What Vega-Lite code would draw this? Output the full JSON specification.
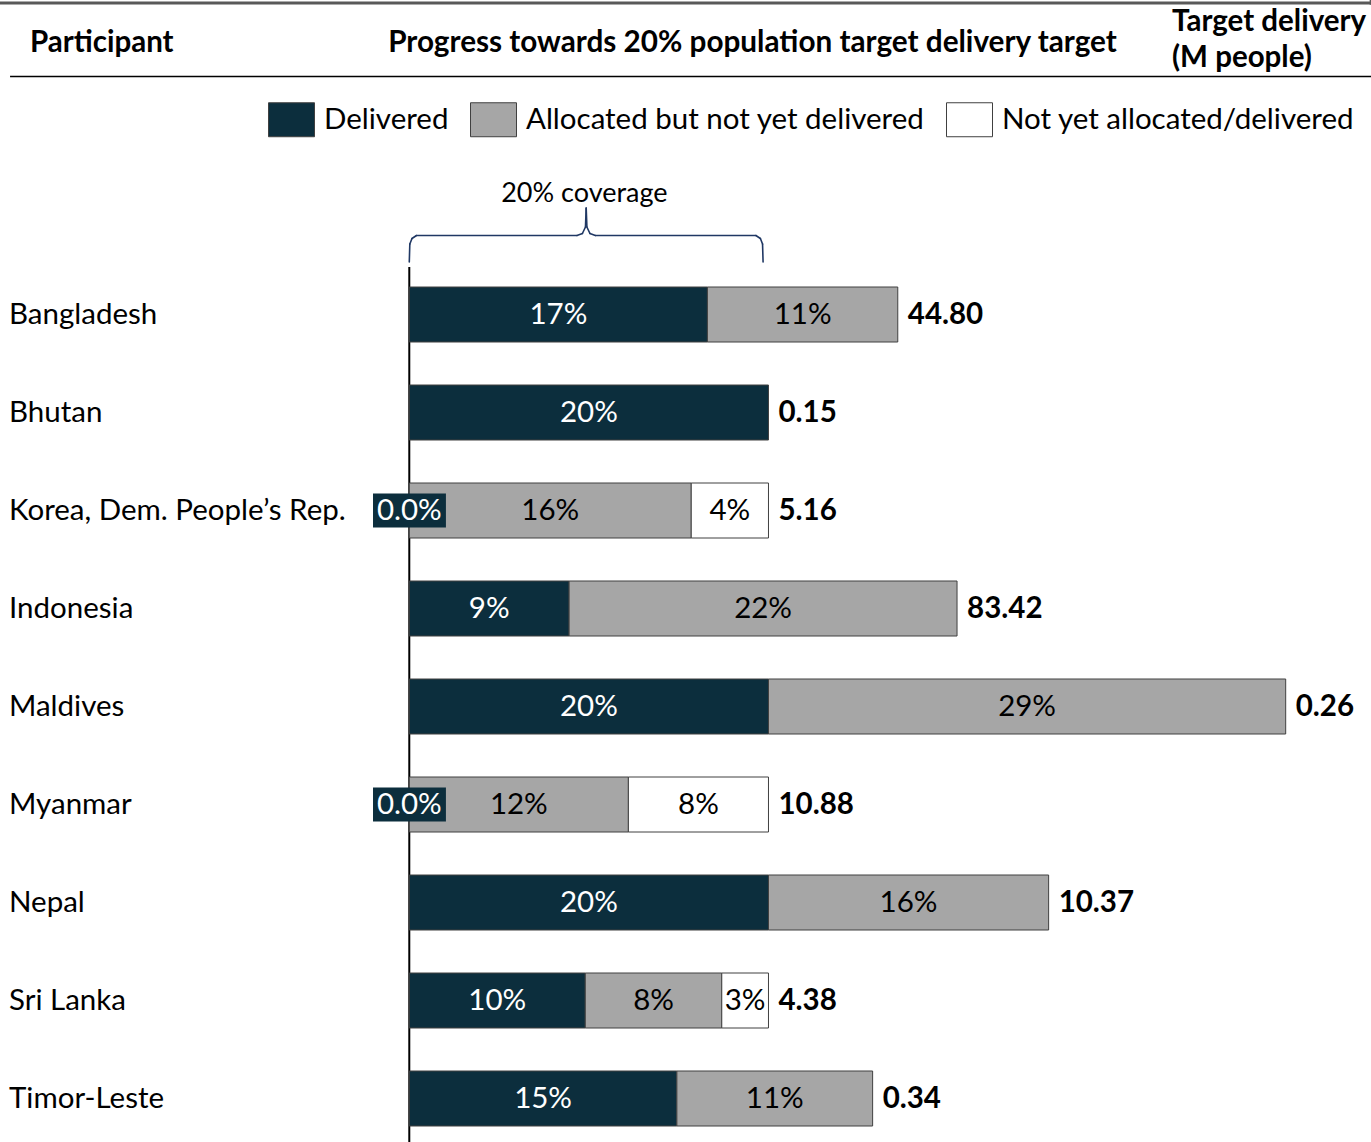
{
  "$schema": "https://vega.github.io/schema/vega-lite/v6.json",
  "width": 1371,
  "height": 877,
  "autosize": {"type": "none"},
  "padding": {"top": 265, "left": 0, "right": 0, "bottom": 0},
  "background": "white",
  "config": {
    "view": {"stroke": null},
    "font": "Lato",
    "axisY": {"domain": false, "ticks": false, "tickSize": 0, "grid": false, "labelAlign": "left", "labelPadding": -8.5, "labelFont": "Lato", "labelFontSize": 29.5, "labelColor": "black", "labelLimit": 600}
  },
  "datasets": {
    "shares": [
      {"Participant": "Bangladesh", "Status": "Delivered", "Rank": 1, "Share": 0.166},
      {"Participant": "Bangladesh", "Status": "Allocated but not yet delivered", "Rank": 2, "Share": 0.106},
      {"Participant": "Bhutan", "Status": "Delivered", "Rank": 1, "Share": 0.2},
      {"Participant": "Korea, Dem. People’s Rep.", "Status": "Delivered", "Rank": 1, "Share": 0},
      {"Participant": "Korea, Dem. People’s Rep.", "Status": "Allocated but not yet delivered", "Rank": 2, "Share": 0.157},
      {"Participant": "Korea, Dem. People’s Rep.", "Status": "Not yet allocated/delivered", "Rank": 3, "Share": 0.043},
      {"Participant": "Indonesia", "Status": "Delivered", "Rank": 1, "Share": 0.089},
      {"Participant": "Indonesia", "Status": "Allocated but not yet delivered", "Rank": 2, "Share": 0.216},
      {"Participant": "Maldives", "Status": "Delivered", "Rank": 1, "Share": 0.2},
      {"Participant": "Maldives", "Status": "Allocated but not yet delivered", "Rank": 2, "Share": 0.288},
      {"Participant": "Myanmar", "Status": "Delivered", "Rank": 1, "Share": 0},
      {"Participant": "Myanmar", "Status": "Allocated but not yet delivered", "Rank": 2, "Share": 0.122},
      {"Participant": "Myanmar", "Status": "Not yet allocated/delivered", "Rank": 3, "Share": 0.078},
      {"Participant": "Nepal", "Status": "Delivered", "Rank": 1, "Share": 0.2},
      {"Participant": "Nepal", "Status": "Allocated but not yet delivered", "Rank": 2, "Share": 0.156},
      {"Participant": "Sri Lanka", "Status": "Delivered", "Rank": 1, "Share": 0.098},
      {"Participant": "Sri Lanka", "Status": "Allocated but not yet delivered", "Rank": 2, "Share": 0.076},
      {"Participant": "Sri Lanka", "Status": "Not yet allocated/delivered", "Rank": 3, "Share": 0.026},
      {"Participant": "Timor-Leste", "Status": "Delivered", "Rank": 1, "Share": 0.149},
      {"Participant": "Timor-Leste", "Status": "Allocated but not yet delivered", "Rank": 2, "Share": 0.109}
    ],
    "targets": [
      {"Participant": "Bangladesh", "Target": 44.80},
      {"Participant": "Bhutan", "Target": 0.15},
      {"Participant": "Korea, Dem. People’s Rep.", "Target": 5.16},
      {"Participant": "Indonesia", "Target": 83.42},
      {"Participant": "Maldives", "Target": 0.26},
      {"Participant": "Myanmar", "Target": 10.88},
      {"Participant": "Nepal", "Target": 10.37},
      {"Participant": "Sri Lanka", "Target": 4.38},
      {"Participant": "Timor-Leste", "Target": 0.34}
    ]
  },
  "resolve": {"scale": {"y": "independent"}},
  "layer": [
    {
      "data": {"values": [{}]},
      "layer": [
        {"mark": {"type": "rule", "stroke": "#595959", "strokeWidth": 3}, "encoding": {
          "x": {"datum": -0.2279, "scale": {"domain": [-0.2279, 0.5355], "nice": false, "zero": false}, "axis": null},
          "x2": {"datum": 0.5355},
          "y": {"datum": -3.1786, "scale": {"domain": [-0.5051, 8.4439], "reverse": true, "nice": false, "zero": false}, "axis": null}}},
        {"mark": {"type": "rule", "stroke": "#595959", "strokeWidth": 2}, "encoding": {
          "x": {"datum": 0.5353, "scale": {"domain": [-0.2279, 0.5355], "nice": false, "zero": false}, "axis": null},
          "y": {"datum": -3.2092, "scale": {"domain": [-0.5051, 8.4439], "reverse": true, "nice": false, "zero": false}, "axis": null},
          "y2": {"datum": -3.16}}},
        {"mark": {"type": "rule", "stroke": "black", "strokeWidth": 1.5}, "encoding": {
          "x": {"datum": -0.2223, "scale": {"domain": [-0.2279, 0.5355], "nice": false, "zero": false}, "axis": null},
          "x2": {"datum": 0.5355},
          "y": {"datum": -2.4286, "scale": {"domain": [-0.5051, 8.4439], "reverse": true, "nice": false, "zero": false}, "axis": null}}},
        {"mark": {"type": "text", "text": "Participant", "align": "left", "baseline": "alphabetic", "fontWeight": "bold", "fontSize": 29.5, "font": "Lato", "color": "black"}, "encoding": {
          "x": {"datum": -0.2112, "scale": {"domain": [-0.2279, 0.5355], "nice": false, "zero": false}, "axis": null},
          "y": {"datum": -2.6786, "scale": {"domain": [-0.5051, 8.4439], "reverse": true, "nice": false, "zero": false}, "axis": null}}},
        {"mark": {"type": "text", "text": "Progress towards 20% population target delivery target", "align": "center", "baseline": "alphabetic", "fontWeight": "bold", "fontSize": 29.7, "font": "Lato", "color": "black"}, "encoding": {
          "x": {"datum": 0.1911, "scale": {"domain": [-0.2279, 0.5355], "nice": false, "zero": false}, "axis": null},
          "y": {"datum": -2.6786, "scale": {"domain": [-0.5051, 8.4439], "reverse": true, "nice": false, "zero": false}, "axis": null}}},
        {"mark": {"type": "text", "text": ["Target delivery", "(M people)"], "lineHeight": 36, "align": "left", "baseline": "alphabetic", "fontWeight": "bold", "fontSize": 29.5, "font": "Lato", "color": "black"}, "encoding": {
          "x": {"datum": 0.4247, "scale": {"domain": [-0.2279, 0.5355], "nice": false, "zero": false}, "axis": null},
          "y": {"datum": -2.8929, "scale": {"domain": [-0.5051, 8.4439], "reverse": true, "nice": false, "zero": false}, "axis": null}}},
        {"mark": {"type": "text", "text": "20% coverage", "align": "center", "baseline": "alphabetic", "fontSize": 27, "font": "Lato", "color": "black"}, "encoding": {
          "x": {"datum": 0.0975, "scale": {"domain": [-0.2279, 0.5355], "nice": false, "zero": false}, "axis": null},
          "y": {"datum": -1.148, "scale": {"domain": [-0.5051, 8.4439], "reverse": true, "nice": false, "zero": false}, "axis": null}}},
        {"mark": {"type": "rule", "stroke": "black", "strokeWidth": 2}, "encoding": {
          "x": {"datum": 0, "scale": {"domain": [-0.2279, 0.5355], "nice": false, "zero": false}, "axis": null},
          "y": {"datum": -0.4847, "scale": {"domain": [-0.5051, 8.4439], "reverse": true, "nice": false, "zero": false}, "axis": null},
          "y2": {"datum": 8.4439}}},
        {"layer": [
          {"mark": {"type": "rule", "stroke": "#203864", "strokeWidth": 1.6, "strokeCap": "round"}, "encoding": {"x": {"datum": 0, "scale": {"domain": [-0.2279, 0.5355], "nice": false, "zero": false}, "axis": null}, "x2": {"datum": 0.0003}, "y": {"datum": -0.5357, "scale": {"domain": [-0.5051, 8.4439], "reverse": true, "nice": false, "zero": false}, "axis": null}, "y2": {"datum": -0.7194}}},
          {"mark": {"type": "rule", "stroke": "#203864", "strokeWidth": 1.6, "strokeCap": "round"}, "encoding": {"x": {"datum": 0.0003, "scale": {"domain": [-0.2279, 0.5355], "nice": false, "zero": false}, "axis": null}, "x2": {"datum": 0.0015}, "y": {"datum": -0.7194, "scale": {"domain": [-0.5051, 8.4439], "reverse": true, "nice": false, "zero": false}, "axis": null}, "y2": {"datum": -0.7755}}},
          {"mark": {"type": "rule", "stroke": "#203864", "strokeWidth": 1.6, "strokeCap": "round"}, "encoding": {"x": {"datum": 0.0015, "scale": {"domain": [-0.2279, 0.5355], "nice": false, "zero": false}, "axis": null}, "x2": {"datum": 0.004}, "y": {"datum": -0.7755, "scale": {"domain": [-0.5051, 8.4439], "reverse": true, "nice": false, "zero": false}, "axis": null}, "y2": {"datum": -0.8061}}},
          {"mark": {"type": "rule", "stroke": "#203864", "strokeWidth": 1.6, "strokeCap": "round"}, "encoding": {"x": {"datum": 0.004, "scale": {"domain": [-0.2279, 0.5355], "nice": false, "zero": false}, "axis": null}, "x2": {"datum": 0.0934}, "y": {"datum": -0.8061, "scale": {"domain": [-0.5051, 8.4439], "reverse": true, "nice": false, "zero": false}, "axis": null}, "y2": {"datum": -0.8061}}},
          {"mark": {"type": "rule", "stroke": "#203864", "strokeWidth": 1.6, "strokeCap": "round"}, "encoding": {"x": {"datum": 0.0934, "scale": {"domain": [-0.2279, 0.5355], "nice": false, "zero": false}, "axis": null}, "x2": {"datum": 0.0964}, "y": {"datum": -0.8061, "scale": {"domain": [-0.5051, 8.4439], "reverse": true, "nice": false, "zero": false}, "axis": null}, "y2": {"datum": -0.8265}}},
          {"mark": {"type": "rule", "stroke": "#203864", "strokeWidth": 1.6, "strokeCap": "round"}, "encoding": {"x": {"datum": 0.0964, "scale": {"domain": [-0.2279, 0.5355], "nice": false, "zero": false}, "axis": null}, "x2": {"datum": 0.0981}, "y": {"datum": -0.8265, "scale": {"domain": [-0.5051, 8.4439], "reverse": true, "nice": false, "zero": false}, "axis": null}, "y2": {"datum": -0.8929}}},
          {"mark": {"type": "rule", "stroke": "#203864", "strokeWidth": 1.6, "strokeCap": "round"}, "encoding": {"x": {"datum": 0.0981, "scale": {"domain": [-0.2279, 0.5355], "nice": false, "zero": false}, "axis": null}, "x2": {"datum": 0.0985}, "y": {"datum": -0.8929, "scale": {"domain": [-0.5051, 8.4439], "reverse": true, "nice": false, "zero": false}, "axis": null}, "y2": {"datum": -1.0867}}},
          {"mark": {"type": "rule", "stroke": "#203864", "strokeWidth": 1.6, "strokeCap": "round"}, "encoding": {"x": {"datum": 0.0985, "scale": {"domain": [-0.2279, 0.5355], "nice": false, "zero": false}, "axis": null}, "x2": {"datum": 0.0989}, "y": {"datum": -1.0867, "scale": {"domain": [-0.5051, 8.4439], "reverse": true, "nice": false, "zero": false}, "axis": null}, "y2": {"datum": -0.8929}}},
          {"mark": {"type": "rule", "stroke": "#203864", "strokeWidth": 1.6, "strokeCap": "round"}, "encoding": {"x": {"datum": 0.0989, "scale": {"domain": [-0.2279, 0.5355], "nice": false, "zero": false}, "axis": null}, "x2": {"datum": 0.1006}, "y": {"datum": -0.8929, "scale": {"domain": [-0.5051, 8.4439], "reverse": true, "nice": false, "zero": false}, "axis": null}, "y2": {"datum": -0.8265}}},
          {"mark": {"type": "rule", "stroke": "#203864", "strokeWidth": 1.6, "strokeCap": "round"}, "encoding": {"x": {"datum": 0.1006, "scale": {"domain": [-0.2279, 0.5355], "nice": false, "zero": false}, "axis": null}, "x2": {"datum": 0.1036}, "y": {"datum": -0.8265, "scale": {"domain": [-0.5051, 8.4439], "reverse": true, "nice": false, "zero": false}, "axis": null}, "y2": {"datum": -0.8061}}},
          {"mark": {"type": "rule", "stroke": "#203864", "strokeWidth": 1.6, "strokeCap": "round"}, "encoding": {"x": {"datum": 0.1036, "scale": {"domain": [-0.2279, 0.5355], "nice": false, "zero": false}, "axis": null}, "x2": {"datum": 0.193}, "y": {"datum": -0.8061, "scale": {"domain": [-0.5051, 8.4439], "reverse": true, "nice": false, "zero": false}, "axis": null}, "y2": {"datum": -0.8061}}},
          {"mark": {"type": "rule", "stroke": "#203864", "strokeWidth": 1.6, "strokeCap": "round"}, "encoding": {"x": {"datum": 0.193, "scale": {"domain": [-0.2279, 0.5355], "nice": false, "zero": false}, "axis": null}, "x2": {"datum": 0.1955}, "y": {"datum": -0.8061, "scale": {"domain": [-0.5051, 8.4439], "reverse": true, "nice": false, "zero": false}, "axis": null}, "y2": {"datum": -0.7755}}},
          {"mark": {"type": "rule", "stroke": "#203864", "strokeWidth": 1.6, "strokeCap": "round"}, "encoding": {"x": {"datum": 0.1955, "scale": {"domain": [-0.2279, 0.5355], "nice": false, "zero": false}, "axis": null}, "x2": {"datum": 0.1967}, "y": {"datum": -0.7755, "scale": {"domain": [-0.5051, 8.4439], "reverse": true, "nice": false, "zero": false}, "axis": null}, "y2": {"datum": -0.7194}}},
          {"mark": {"type": "rule", "stroke": "#203864", "strokeWidth": 1.6, "strokeCap": "round"}, "encoding": {"x": {"datum": 0.1967, "scale": {"domain": [-0.2279, 0.5355], "nice": false, "zero": false}, "axis": null}, "x2": {"datum": 0.197}, "y": {"datum": -0.7194, "scale": {"domain": [-0.5051, 8.4439], "reverse": true, "nice": false, "zero": false}, "axis": null}, "y2": {"datum": -0.5357}}}
        ]}
      ]
    },
    {
      "layer": [
        {
          "data": {"name": "shares"},
          "mark": {"type": "bar", "stroke": "#404040", "strokeWidth": 1},
          "encoding": {
            "y": {"field": "Participant", "type": "nominal", "title": null, "sort": ["Bangladesh", "Bhutan", "Korea, Dem. People’s Rep.", "Indonesia", "Maldives", "Myanmar", "Nepal", "Sri Lanka", "Timor-Leste"], "scale": {"paddingInner": 0.4388, "paddingOuter": 0.1939, "align": 0.579}},
            "x": {"field": "Share", "type": "quantitative", "stack": "zero", "scale": {"domain": [-0.2279, 0.5355], "nice": false, "zero": false}, "axis": null},
            "color": {"field": "Status", "type": "nominal", "scale": {"domain": ["Delivered", "Allocated but not yet delivered", "Not yet allocated/delivered"], "range": ["#0c2e3d", "#a6a6a6", "#ffffff"]},
              "legend": {"orient": "none", "legendX": 268, "legendY": -169, "direction": "horizontal", "title": null, "symbolType": "M-1,-0.739L1,-0.739L1,0.739L-1,0.739Z", "symbolSize": 2116, "symbolStrokeColor": "#404040", "symbolStrokeWidth": 1, "labelFont": "Lato", "labelFontSize": 29.5, "labelColor": "black", "labelOffset": 9, "columnPadding": 19, "labelLimit": 600, "padding": 0}},
            "order": {"field": "Rank", "type": "quantitative"}
          }
        },
        {
          "data": {"name": "shares"},
          "transform": [{"filter": "datum.Share === 0"}],
          "mark": {"type": "bar", "size": 34, "fill": "#0c2e3d"},
          "encoding": {
            "y": {"field": "Participant", "type": "nominal", "title": null, "sort": ["Bangladesh", "Bhutan", "Korea, Dem. People’s Rep.", "Indonesia", "Maldives", "Myanmar", "Nepal", "Sri Lanka", "Timor-Leste"], "scale": {"paddingInner": 0.4388, "paddingOuter": 0.1939, "align": 0.579}},
            "x": {"datum": -0.0202, "scale": {"domain": [-0.2279, 0.5355], "nice": false, "zero": false}, "axis": null},
            "x2": {"datum": 0.0204}
          }
        },
        {
          "data": {"name": "shares"},
          "transform": [{"filter": "datum.Share === 0"}],
          "mark": {"type": "text", "font": "Lato", "fontSize": 29.5, "baseline": "middle", "align": "center", "color": "white"},
          "encoding": {
            "y": {"field": "Participant", "type": "nominal", "title": null, "sort": ["Bangladesh", "Bhutan", "Korea, Dem. People’s Rep.", "Indonesia", "Maldives", "Myanmar", "Nepal", "Sri Lanka", "Timor-Leste"], "scale": {"paddingInner": 0.4388, "paddingOuter": 0.1939, "align": 0.579}},
            "x": {"field": "Share", "type": "quantitative", "scale": {"domain": [-0.2279, 0.5355], "nice": false, "zero": false}, "axis": null},
            "text": {"field": "Share", "type": "quantitative", "format": ".1%"}
          }
        },
        {
          "data": {"name": "shares"},
          "transform": [{"filter": "datum.Share > 0"}],
          "mark": {"type": "text", "font": "Lato", "fontSize": 29.5, "baseline": "middle", "align": "center"},
          "encoding": {
            "y": {"field": "Participant", "type": "nominal", "title": null, "sort": ["Bangladesh", "Bhutan", "Korea, Dem. People’s Rep.", "Indonesia", "Maldives", "Myanmar", "Nepal", "Sri Lanka", "Timor-Leste"], "scale": {"paddingInner": 0.4388, "paddingOuter": 0.1939, "align": 0.579}},
            "x": {"field": "Share", "type": "quantitative", "stack": "zero", "bandPosition": 0.5, "scale": {"domain": [-0.2279, 0.5355], "nice": false, "zero": false}, "axis": null},
            "detail": {"field": "Status", "type": "nominal"},
            "order": {"field": "Rank", "type": "quantitative"},
            "text": {"field": "Share", "type": "quantitative", "format": ".0%"},
            "color": {"condition": {"test": "datum.Status === 'Delivered'", "value": "white"}, "value": "black"}
          }
        },
        {
          "data": {"name": "shares"},
          "transform": [
            {"aggregate": [{"op": "sum", "field": "Share", "as": "Total"}], "groupby": ["Participant"]},
            {"lookup": "Participant", "from": {"data": {"name": "targets"}, "key": "Participant", "fields": ["Target"]}}
          ],
          "mark": {"type": "text", "font": "Lato", "fontSize": 29.5, "fontWeight": "bold", "baseline": "middle", "align": "left", "dx": 10, "color": "black"},
          "encoding": {
            "y": {"field": "Participant", "type": "nominal", "title": null, "sort": ["Bangladesh", "Bhutan", "Korea, Dem. People’s Rep.", "Indonesia", "Maldives", "Myanmar", "Nepal", "Sri Lanka", "Timor-Leste"], "scale": {"paddingInner": 0.4388, "paddingOuter": 0.1939, "align": 0.579}},
            "x": {"field": "Total", "type": "quantitative", "scale": {"domain": [-0.2279, 0.5355], "nice": false, "zero": false}, "axis": null},
            "text": {"field": "Target", "type": "quantitative", "format": ".2f"}
          }
        }
      ]
    }
  ]
}
